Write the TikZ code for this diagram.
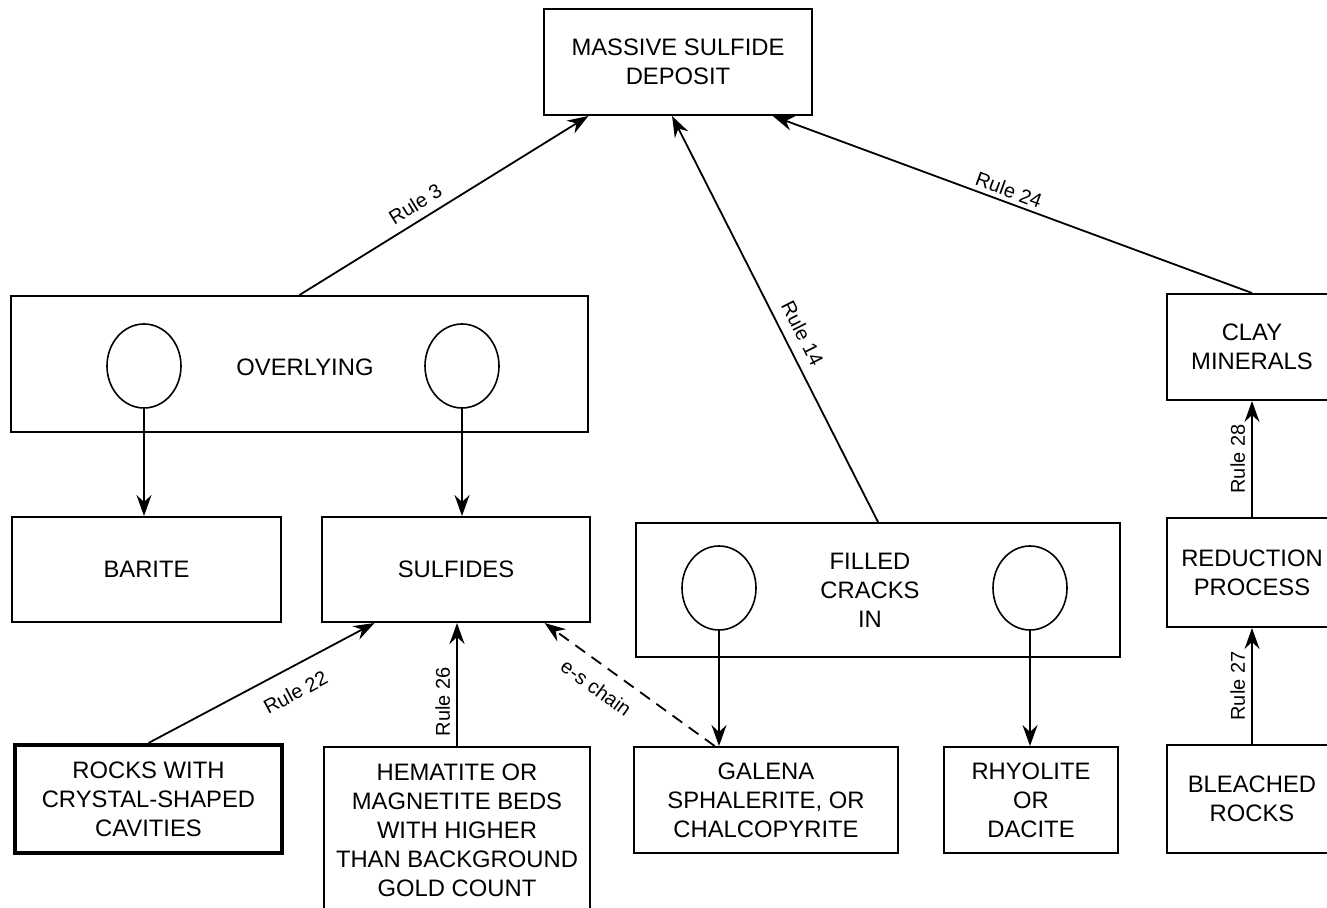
\documentclass[tikz,border=0pt]{standalone}
\usepackage{fontspec}
\setmainfont{Liberation Sans}
\usetikzlibrary{shapes.geometric,arrows.meta,calc}
\begin{document}
\begin{tikzpicture}[x=0.5pt,y=-0.5pt,
  box/.style={draw, line width=1pt, inner sep=0pt, align=center, font=\fontsize{11.9}{14.5}\selectfont},
  ring/.style={draw, ellipse, line width=0.8pt, minimum width=37pt, minimum height=42pt, inner sep=0pt},
  txt/.style={align=center, font=\fontsize{11.9}{14.5}\selectfont, inner sep=0pt},
  arr/.style={line width=0.9pt, -{Stealth[length=10.5pt,width=7.5pt,inset=3.5pt]}},
  rule/.style={font=\fontsize{10}{12}\selectfont, sloped, inner sep=2pt}
]
\useasboundingbox (0,0) rectangle (1327,908);

\node[box, minimum width=134pt, minimum height=53pt] (massive) at (678,62) {MASSIVE SULFIDE\\DEPOSIT};

\node[box, minimum width=288.5pt, minimum height=68pt] (over) at (299.5,364) {};
\node[txt] (overtext) at (305,367) {OVERLYING};
\node[ring] (oc1) at (144,366) {};
\node[ring] (oc2) at (462,366) {};

\node[box, minimum width=134.5pt, minimum height=52.5pt] (barite) at (146.5,569.5) {BARITE};
\node[box, minimum width=134pt, minimum height=52.5pt] (sulf) at (456,569.5) {SULFIDES};

\node[box, minimum width=242pt, minimum height=67pt] (filled) at (878,590) {};
\node[txt] (filledtext) at (870,590) {FILLED\\CRACKS\\IN};
\node[ring] (fc1) at (719,588) {};
\node[ring] (fc2) at (1030,588) {};

\node[box, minimum width=85pt, minimum height=53pt] (clay) at (1252,347) {CLAY\\MINERALS};
\node[box, minimum width=85pt, minimum height=54.5pt] (reduc) at (1252,572.5) {REDUCTION\\PROCESS};
\node[box, minimum width=85pt, minimum height=54pt] (bleach) at (1252,799) {BLEACHED\\ROCKS};

\node[box, line width=2pt, minimum width=133.5pt, minimum height=54pt] (rocks) at (148.5,799) {ROCKS WITH\\CRYSTAL-SHAPED\\CAVITIES};
\node[box, minimum width=133pt, minimum height=83pt] (hem) at (457,830) {HEMATITE OR\\MAGNETITE BEDS\\WITH HIGHER\\THAN BACKGROUND\\GOLD COUNT};
\node[box, minimum width=132pt, minimum height=53pt] (galena) at (766,800) {GALENA\\SPHALERITE, OR\\CHALCOPYRITE};
\node[box, minimum width=87pt, minimum height=53pt] (rhyo) at (1031,800) {RHYOLITE\\OR\\DACITE};

% connectors to the deposit
\draw[arr] (over.north) -- node[rule, pos=0.43, above=2pt] (l3) {Rule 3} ($(massive.south west)!0.168!(massive.south east)$);
\draw[arr] (filled.north) -- node[rule, pos=0.445, above=3pt] (l14) {Rule 14} ($(massive.south west)!0.478!(massive.south east)$);
\draw[arr] (clay.north) -- node[rule, pos=0.516, above] (l24) {Rule 24} ($(massive.south west)!0.851!(massive.south east)$);

% right column
\draw[arr] (reduc.north) -- node[rule, midway, above=1pt] (l28) {Rule 28} (clay.south);
\draw[arr] (bleach.north) -- node[rule, midway, above=1pt] (l27) {Rule 27} (reduc.south);

% circles down
\draw[arr] (oc1.south) -- (oc1.south |- barite.north);
\draw[arr] (oc2.south) -- (oc2.south |- sulf.north);
\draw[arr] (fc1.south) -- (fc1.south |- galena.north);
\draw[arr] (fc2.south) -- (fc2.south |- rhyo.north);

% into sulfides
\draw[arr] (rocks.north) -- node[rule, pos=0.6, below=6pt] (l22) {Rule 22} ($(sulf.south west)!0.198!(sulf.south east)$);
\draw[arr] (hem.north) -- node[rule, pos=0.36, above=1pt] (l26) {Rule 26} (hem.north |- sulf.south);
\draw[arr, dash pattern=on 6pt off 4pt] ($(galena.north west)!0.307!(galena.north east)$) -- node[rule, pos=0.62, below=5pt] (les) {e-s chain} ($(sulf.south west)!0.828!(sulf.south east)$);
\end{tikzpicture}
\end{document}
